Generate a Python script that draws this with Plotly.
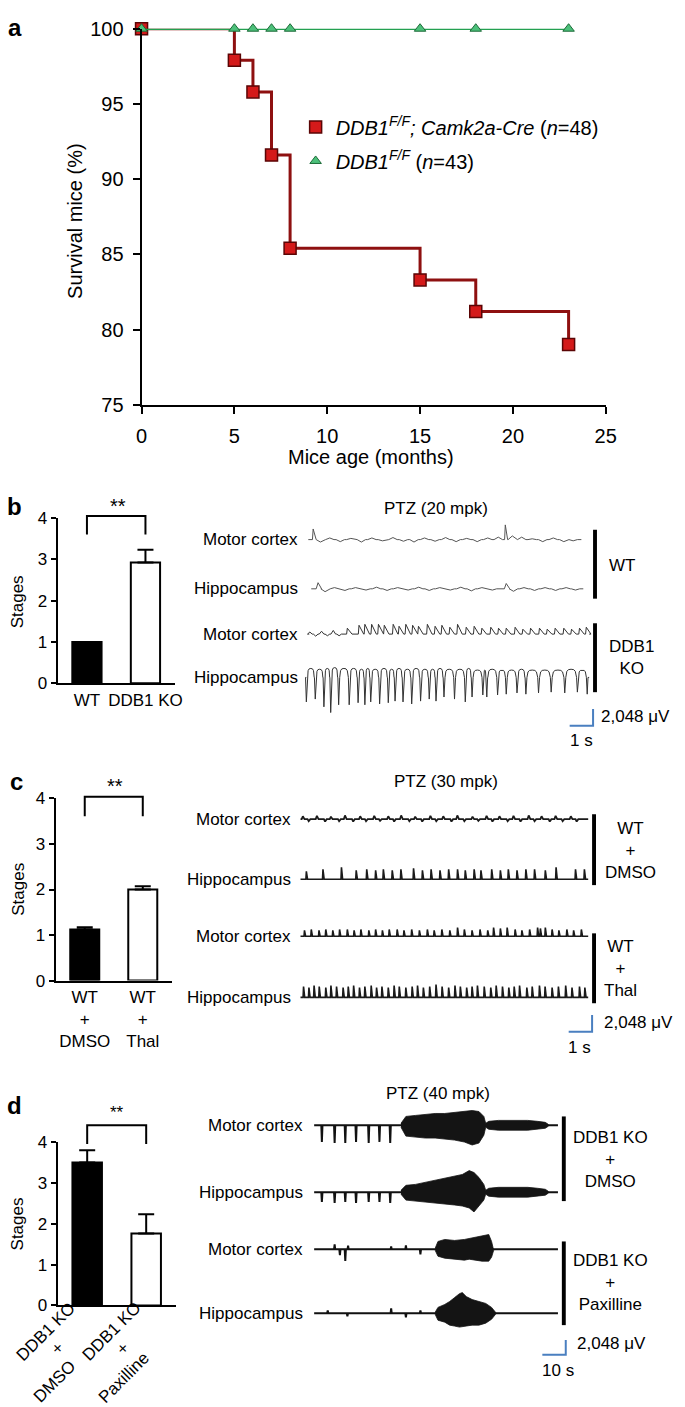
import plotly.graph_objects as go

W, H = 685, 1407
FONT = "Arial"

# ---------------- DATA ----------------
# Panel a: Kaplan-Meier survival
a_months_ko = [0, 5, 6, 7, 8, 15, 18, 23]
a_surv_ko = [100, 97.9, 95.8, 91.6, 85.4, 83.3, 81.2, 79.0]
a_months_ctl = [0, 5, 6, 7, 8, 15, 18, 23]
a_surv_ctl = [100, 100, 100, 100, 100, 100, 100, 100]
a_name_ko = "<i>DDB1</i><sup><i>F/F</i></sup><i>; Camk2a-Cre</i> (<i>n</i>=48)"
a_name_ctl = "<i>DDB1</i><sup><i>F/F</i></sup> (<i>n</i>=43)"
a_xticks = [0, 5, 10, 15, 20, 25]
a_yticks = [75, 80, 85, 90, 95, 100]

# Panels b-d: seizure stages
stage_ticks = [0, 1, 2, 3, 4]
b_groups = ["WT", "DDB1 KO"]
b_means = [1.0, 2.92]
b_err = [0.0, 0.31]
c_groups = ["WT<br>+<br>DMSO", "WT<br>+<br>Thal"]
c_means = [1.12, 2.0]
c_err = [0.05, 0.07]
d_groups = ["DDB1 KO<br>+<br>DMSO", "DDB1 KO<br>+<br>Paxilline"]
d_label_lines = [["DDB1 KO", "+", "DMSO"], ["DDB1 KO", "+", "Paxilline"]]
d_means = [3.5, 1.76]
d_err = [0.3, 0.47]

# EEG scale bars
scale_uv = 2048
b_scale_s = 1
c_scale_s = 1
d_scale_s = 10

# Panel b EEG (time s, amplitude uV)
b_wt_mc_t = [0.29, 0.6, 1.0, 1.45, 1.9, 2.35, 2.8, 3.25, 3.7, 4.15, 4.6, 5.05, 5.5, 5.95, 6.4, 6.85, 7.3, 7.75, 8.2, 8.5, 8.8, 9.2, 9.65, 10.1, 10.55, 11.0, 11.4]
b_wt_mc_v = [1300, -300, 200, -250, 150, -300, 200, -150, 250, -200, -300, 200, -200, 250, -250, 150, -250, 200, 300, 1800, 450, 300, 100, -250, 200, -250, -150]
b_wt_hp_t = [0.5, 0.8, 1.2, 1.65, 2.1, 2.55, 3.0, 3.45, 3.9, 4.35, 4.8, 5.25, 5.7, 6.15, 6.6, 7.05, 7.5, 7.95, 8.54, 8.85, 9.3, 9.75, 10.2, 10.65, 11.1, 11.5]
b_wt_hp_v = [750, -350, 150, -200, 150, -150, 200, -200, 150, -150, 200, -200, 150, -150, 200, -250, 150, -150, 650, -300, 150, -200, 150, -200, 150, -150]
b_ko_mc_t = [0.15, 0.4, 0.65, 0.9, 1.15, 1.4, 1.75, 2.25, 2.5, 2.79, 3.08, 3.33, 3.71, 3.96, 4.25, 4.54, 4.79, 5.17, 5.5, 5.79, 6.13, 6.46, 6.83, 7.17, 7.5, 7.88, 8.21, 8.54, 8.92, 9.25, 9.58, 9.96, 10.29, 10.63, 11.0, 11.33, 11.67, 11.96]
b_ko_mc_v = [250, -250, 350, -200, 450, -200, 720, 1080, 1200, 1200, 1200, 1080, 1200, 960, 1200, 1080, 960, 1200, 960, 1080, 840, 1200, 840, 960, 720, 840, 720, 720, 840, 600, 720, 720, 600, 720, 720, 600, 720, 840]
b_ko_hp_t = [0.0, 0.38, 0.75, 1.04, 1.38, 1.83, 2.21, 2.5, 2.75, 3.13, 3.5, 3.79, 4.13, 4.5, 4.88, 5.25, 5.54, 5.88, 6.33, 6.79, 7.08, 7.54, 7.71, 8.17, 8.54, 9.0, 9.38, 9.92, 10.46, 11.04, 11.58, 12.0]
b_ko_hp_v = [-3000, -2650, -3600, -4300, -3350, -3350, -3100, -3350, -3000, -3250, -3100, -2900, -3000, -3250, -2900, -2650, -2900, -2400, -2650, -3000, -2400, -2150, -2400, -2150, -2050, -1900, -2050, -1900, -1800, -1900, -1800, -2050]
b_ko_hp_hump = [1100, 1000, 1100, 1200, 1100, 1100, 1000, 1100, 1000, 1100, 1000, 1100, 1000, 1100, 1000, 1000, 1100, 1000, 1000, 1100, 900, 900, 1000, 900, 900, 1000, 900, 900, 900, 1000, 900]

# Panel c EEG
c_dmso_mc_t = [0.1, 0.35, 0.7, 1.05, 1.3, 1.65, 1.9, 2.25, 2.55, 2.8, 3.15, 3.4, 3.75, 4.0, 4.3, 4.65, 4.9, 5.2, 5.55, 5.8, 6.1, 6.45, 6.7, 7.0, 7.35, 7.6, 7.95, 8.2, 8.5, 8.85, 9.1, 9.4, 9.75, 10.0, 10.3, 10.65, 10.9, 11.2, 11.55, 11.8]
c_dmso_mc_v = [350, -250, 400, -300, 300, -250, 450, -300, 350, -250, 400, -200, 350, -300, 450, -250, 300, -300, 400, -250, 350, -300, 450, -250, 300, -200, 400, -300, 350, -250, 400, -300, 450, -250, 350, -300, 400, -250, 350, -300]
c_dmso_hp_t = [0.25, 0.96, 1.75, 2.38, 2.83, 3.21, 3.54, 3.92, 4.29, 4.83, 5.21, 5.58, 5.96, 6.33, 6.71, 7.04, 7.42, 7.71, 8.17, 8.54, 8.88, 9.25, 9.63, 10.0, 10.46, 10.92, 11.75, 12.13]
c_dmso_hp_v = [960, 1200, 1450, 1080, 1200, 1080, 1200, 1080, 1200, 1330, 1080, 1200, 1080, 1200, 1200, 1080, 1200, 1080, 1200, 1080, 1200, 1080, 1200, 1200, 1080, 1450, 1200, 1200]
c_thal_mc_t = [0.17, 0.46, 0.79, 1.08, 1.38, 1.67, 2.0, 2.29, 2.58, 2.92, 3.21, 3.5, 3.79, 4.13, 4.42, 4.75, 5.08, 5.42, 5.71, 6.04, 6.38, 6.71, 7.0, 7.33, 7.67, 8.0, 8.25, 8.54, 8.83, 9.17, 9.46, 9.79, 10.13, 10.25, 10.46, 10.75, 11.04, 11.38, 11.67, 12.0]
c_thal_mc_v = [720, 840, 720, 840, 720, 840, 840, 720, 840, 720, 840, 720, 840, 840, 720, 840, 720, 840, 720, 840, 720, 1080, 840, 720, 840, 720, 1080, 960, 1080, 840, 720, 840, 1080, 960, 1080, 840, 720, 840, 720, 840]
c_thal_hp_t = [0.13, 0.36, 0.58, 0.8, 1.08, 1.3, 1.54, 1.82, 2.04, 2.27, 2.52, 2.75, 3.02, 3.25, 3.48, 3.75, 4.0, 4.22, 4.5, 4.77, 5.0, 5.25, 5.52, 5.79, 6.05, 6.33, 6.6, 6.83, 7.1, 7.33, 7.56, 7.85, 8.13, 8.36, 8.63, 8.9, 9.13, 9.36, 9.67, 9.9, 10.21, 10.45, 10.75, 11.02, 11.33, 11.6, 11.92, 12.15]
c_thal_hp_v = [1330, 1200, 1450, 1330, 1200, 1450, 1330, 1200, 1330, 1450, 1200, 1330, 1450, 1200, 1330, 1200, 1450, 1330, 1200, 1330, 1450, 1200, 1330, 1560, 1330, 1200, 1450, 1330, 1200, 1330, 1450, 1330, 1200, 1450, 1330, 1200, 1330, 1450, 1200, 1330, 1450, 1330, 1200, 1330, 1450, 1200, 1330, 1200]

# Panel d EEG (spikes + burst envelopes)
d_dmso_spk_t = [3.3, 8.75, 13.3, 17.9, 23.3, 27.9, 32.5]
d_dmso_mc_spk_v = [-2300, -2450, -2450, -2300, -2450, -2300, -2450]
d_dmso_hp_spk_v = [-1350, -1500, -1350, -1500, -1350, -1350, -1500]
d_dmso_mc_env_t = [37.1, 39.2, 43.3, 47.5, 51.7, 55.8, 60.0, 64.2, 67.5, 70.4, 72.5, 73.3, 74.6, 78.75, 82.9, 87.1, 91.25, 95.4, 98.75, 100.0]
d_dmso_mc_env_up = [270, 1230, 1370, 1500, 1640, 1640, 1770, 1910, 2050, 1910, 1230, 270, 550, 680, 680, 680, 680, 550, 410, 140]
d_dmso_mc_env_lo = [270, 1500, 1640, 1770, 1770, 1910, 2050, 2320, 2730, 2460, 1370, 270, 550, 680, 680, 680, 680, 550, 410, 140]
d_dmso_hp_env_t = [37.1, 39.2, 43.3, 47.5, 51.7, 55.8, 60.0, 63.3, 66.25, 68.3, 70.4, 72.5, 73.3, 74.6, 78.75, 82.9, 87.1, 91.25, 95.4, 98.75, 100.0]
d_dmso_hp_env_up = [270, 960, 1090, 1370, 1640, 1910, 2180, 2460, 3000, 2730, 2050, 1090, 270, 550, 680, 680, 680, 680, 550, 410, 140]
d_dmso_hp_env_lo = [270, 1090, 1230, 1370, 1500, 1640, 1770, 1910, 2180, 2730, 1910, 1090, 270, 550, 680, 680, 680, 680, 550, 410, 140]
d_pax_mc_spk_t = [8.75, 11.0, 13.3, 14.5, 32.9, 39.2, 45.4]
d_pax_mc_spk_v = [700, -800, -1600, 500, 400, 550, -700]
d_pax_mc_env_t = [51.7, 52.9, 55.8, 60.0, 64.2, 66.25, 68.3, 71.7, 74.6, 75.8, 76.7]
d_pax_mc_env_up = [140, 1090, 1370, 1230, 1370, 1500, 1640, 1910, 2050, 1090, 140]
d_pax_mc_env_lo = [140, 960, 1230, 1370, 1500, 1370, 1500, 1640, 1640, 1090, 140]
d_pax_hp_spk_t = [5.8, 14.2, 32.9, 39.2, 45.4]
d_pax_hp_spk_v = [400, -400, 680, -550, 400]
d_pax_hp_env_t = [51.7, 52.9, 55.8, 57.9, 60.0, 62.1, 63.3, 65.0, 67.5, 70.4, 73.3, 75.8, 77.5]
d_pax_hp_env_up = [140, 820, 1230, 1640, 2180, 2730, 2870, 2320, 1910, 1640, 1370, 820, 140]
d_pax_hp_env_lo = [140, 960, 1230, 1640, 1770, 1910, 1910, 1770, 1640, 1640, 1370, 820, 140]

# ---------------- FIGURE ----------------
fig = go.Figure()
layout = {}
annotations = []
shapes = []


def py(p):
    return 1 - p / H


def text(x, y, s, size=17, xanchor="center", yanchor="middle", angle=0, bold=False, color="black"):
    annotations.append(dict(x=x / W, y=py(y), xref="paper", yref="paper", text=s,
                            showarrow=False, xanchor=xanchor, yanchor=yanchor, textangle=angle,
                            font=dict(family=FONT, size=size, color=color,
                                      weight="bold" if bold else "normal")))


def vbar(x, y0, y1, w=4):
    shapes.append(dict(type="rect", xref="paper", yref="paper", x0=(x - w / 2) / W, x1=(x + w / 2) / W,
                       y0=py(y1), y1=py(y0), fillcolor="black", line=dict(width=0)))


# ----- Panel a -----
ko_marker = dict(symbol="square", size=12, color="#d41a1a", line=dict(color="#5a0505", width=1.5))
ctl_marker = dict(symbol="triangle-up", size=10, color="#4cc07a", line=dict(color="#1c6b38", width=1))
fig.add_trace(go.Scatter(x=a_months_ko, y=a_surv_ko, mode="lines+markers", showlegend=False,
                         line=dict(shape="hv", color="#8e1010", width=3), marker=ko_marker,
                         cliponaxis=False, xaxis="x", yaxis="y"))
fig.add_trace(go.Scatter(x=a_months_ctl, y=a_surv_ctl, mode="lines+markers", showlegend=False,
                         line=dict(shape="hv", color="#23a050", width=2.5), marker=ctl_marker,
                         cliponaxis=False, xaxis="x", yaxis="y"))
fig.add_trace(go.Scatter(x=[None], y=[None], mode="markers", name=a_name_ko, legendgroup="ko",
                         marker=ko_marker, xaxis="x", yaxis="y"))
fig.add_trace(go.Scatter(x=[None], y=[None], mode="markers", name=a_name_ctl, legendgroup="ctl",
                         marker=ctl_marker, xaxis="x", yaxis="y"))

axis_common = dict(showline=True, linecolor="black", linewidth=2, showgrid=False, zeroline=False,
                   ticks="outside", tickcolor="black", tickwidth=2)
layout["xaxis"] = dict(axis_common, domain=[139 / W, 615 / W], range=[0, 25], tickvals=a_xticks, ticklen=7,
                       tickfont=dict(family=FONT, size=20, color="black"), anchor="y", ticklabelstandoff=5)
layout["yaxis"] = dict(axis_common, domain=[py(400), py(18)], range=[75, 100], tickvals=a_yticks, ticklen=7,
                       tickfont=dict(family=FONT, size=20, color="black"), anchor="x", ticklabelstandoff=5)
text(70, 213, "Survival mice (%)", size=20, angle=-90)
text(374, 453, "Mice age (months)", size=20)
text(9, 17, "a", size=24, bold=True)


# ----- Bar panels -----
def bar_panel(n, nb, cats, means, errs, left, right, y0px, y4px, bracket_top, bracket_leg, show_ticks=True):
    fig.add_trace(go.Bar(x=cats, y=means, width=0.5,
                         marker=dict(color=["black", "white"], line=dict(color="black", width=2)),
                         error_y=dict(type="data", array=errs, arrayminus=[0, 0], symmetric=False,
                                      color="black", thickness=2, width=8),
                         showlegend=False, xaxis=f"x{n}", yaxis=f"y{n}"))
    layout[f"xaxis{n}"] = dict(showline=True, linecolor="black", linewidth=2, showgrid=False, zeroline=False,
                               type="category", range=[-0.5, 1.5], ticks="", domain=[left / W, right / W],
                               anchor=f"y{n}", showticklabels=show_ticks,
                               tickfont=dict(family=FONT, size=17, color="black"))
    layout[f"yaxis{n}"] = dict(axis_common, domain=[py(y0px), py(y4px)], range=[0, 4], tickvals=stage_ticks,
                               ticklen=5, anchor=f"x{n}", tickfont=dict(family=FONT, size=17, color="black"))
    # invisible taller overlay subplot for the significance bracket
    unit = (y0px - y4px) / 4
    top_val = 4.8
    layout[f"xaxis{nb}"] = dict(type="category", range=[-0.5, 1.5], domain=[left / W, right / W],
                                visible=False, anchor=f"y{nb}", categoryarray=cats, categoryorder="array")
    layout[f"yaxis{nb}"] = dict(range=[0, top_val], domain=[py(y0px), py(y0px - unit * top_val)],
                                visible=False, anchor=f"x{nb}")
    fig.add_trace(go.Scatter(x=[cats[0], cats[0], cats[1], cats[1]],
                             y=[bracket_leg, bracket_top, bracket_top, bracket_leg],
                             mode="lines", line=dict(color="black", width=2), showlegend=False,
                             hoverinfo="skip", xaxis=f"x{nb}", yaxis=f"y{nb}"))


bar_panel(2, 8, b_groups, b_means, b_err, 53, 173, 683, 515, 4.05, 3.6)
bar_panel(4, 9, c_groups, c_means, c_err, 51, 170, 985, 800, 4.04, 3.61)
bar_panel(6, 10, d_groups, d_means, d_err, 53, 174, 1315, 1149, 4.41, 3.95, show_ticks=False)
# rotated category labels for d (one annotation per line, lines stacked perpendicular to the text)
d_label_pos = [[(41, 1341), (53, 1359), (50, 1392)], [(108, 1341), (120, 1359), (121, 1388)]]
for lines, poss in zip(d_label_lines, d_label_pos):
    for s, (lx, ly) in zip(lines, poss):
        text(lx, ly, s, size=17, angle=-45)

text(9, 503, "b", size=24, bold=True)
text(11, 783, "c", size=24, bold=True)
text(9, 1112, "d", size=24, bold=True)
text(115, 503, "**", size=20)
text(112, 787, "**", size=20)
text(114, 1119, "**", size=17)
text(12, 600, "Stages", size=17, angle=-90)
text(12, 892, "Stages", size=17, angle=-90)
text(12, 1232, "Stages", size=17, angle=-90)


# ----- EEG panels -----
def trace_axes(n, left, right, top, bottom, t0px, pxps, pxpu):
    layout[f"xaxis{n}"] = dict(domain=[left / W, right / W], range=[(left - t0px) / pxps, (right - t0px) / pxps],
                               visible=False, anchor=f"y{n}")
    layout[f"yaxis{n}"] = dict(domain=[py(bottom), py(top)], range=[0, (bottom - top) / pxpu],
                               visible=False, anchor=f"x{n}")
    return lambda p: (bottom - p) / pxpu, lambda p: (p - t0px) / pxps


TRI = [(-1, 0), (0, 1), (1, 0)]
ARCH = [(-1, 0), (-0.8, 0.75), (-0.5, 0.95), (0, 1), (0.5, 0.95), (0.8, 0.75), (1, 0)]


def path(events, off, t_start, t_end):
    # events: (t, amp, rise, fall, template)
    xs, ys = [t_start], [off]
    for t, a, r, f, tpl in sorted(events, key=lambda e: e[0]):
        for fx, fy in tpl:
            xs.append(t + fx * (r if fx < 0 else f))
            ys.append(off + fy * a)
    xs.append(t_end)
    ys.append(off)
    return xs, ys


def add_line(n, xs, ys, color="#2a2a2a", width=1.1):
    fig.add_trace(go.Scatter(x=xs, y=ys, mode="lines", line=dict(color=color, width=width),
                             showlegend=False, hoverinfo="skip", xaxis=f"x{n}", yaxis=f"y{n}"))


def add_env(n, ts, up, lo, off):
    xs = list(ts) + list(ts)[::-1]
    ys = [off + u for u in up] + [off - l for l in lo][::-1]
    fig.add_trace(go.Scatter(x=xs, y=ys, mode="lines", fill="toself", fillcolor="#141414",
                             line=dict(color="#141414", width=0.8), showlegend=False, hoverinfo="skip",
                             xaxis=f"x{n}", yaxis=f"y{n}"))


def scale_bar(n, offy, tx, cx, cy, secs):
    t1 = tx(cx)
    v0 = offy(cy)
    fig.add_trace(go.Scatter(x=[t1 - secs, t1, t1], y=[v0, v0, v0 + scale_uv], mode="lines",
                             line=dict(color="#4a7fc0", width=2), showlegend=False, hoverinfo="skip",
                             xaxis=f"x{n}", yaxis=f"y{n}"))


def wig(ts, vs, big, r_big, f_big, r_small, f_small):
    return [(t, v, r_big, f_big, TRI) if abs(v) >= big else (t, v, r_small, f_small, TRI)
            for t, v in zip(ts, vs)]


# b
offb, tb = trace_axes(3, 300, 685, 490, 760, 308, 24.0, 17 / 2048)
xs, ys = path(wig(b_wt_mc_t, b_wt_mc_v, 1000, 0.03, 0.1, 0.18, 0.18), offb(537), tb(310), tb(590))
add_line(3, xs, ys, "#555555", 1.0)
xs, ys = path(wig(b_wt_hp_t, b_wt_hp_v, 600, 0.08, 0.15, 0.18, 0.18), offb(587), tb(313), tb(592))
add_line(3, xs, ys, "#555555", 1.0)
xs, ys = path(wig(b_ko_mc_t, b_ko_mc_v, 550, 0.03, 0.2, 0.1, 0.1), offb(633), tb(311), tb(598))
add_line(3, xs, ys, "#333333", 1.0)
ev = [(t, v, 0.035, 0.035, TRI) for t, v in zip(b_ko_hp_t, b_ko_hp_v)]
for i, hmp in enumerate(b_ko_hp_hump):
    if i + 1 < len(b_ko_hp_t):
        mid = (b_ko_hp_t[i] + b_ko_hp_t[i + 1]) / 2
        half = (b_ko_hp_t[i + 1] - b_ko_hp_t[i]) / 2 - 0.045
        ev.append((mid, hmp, half, half, ARCH))
xs, ys = path(ev, offb(677), tb(308), tb(598))
add_line(3, xs, ys, "#333333", 1.0)
scale_bar(3, offb, tb, 602, 726, b_scale_s)
text(441, 505, "PTZ (20 mpk)")
text(301, 537, "Motor cortex", xanchor="right")
text(301, 587, "Hippocampus", xanchor="right")
text(301, 633, "Motor cortex", xanchor="right")
text(301, 677, "Hippocampus", xanchor="right")
vbar(604, 527, 597)
vbar(604, 622, 692)
text(616, 563, "WT", xanchor="left")
text(616, 657, "DDB1<br>KO", xanchor="left")
text(608, 717, "2,048 μV", xanchor="left")
text(590, 741, "1 s")

# c
offc, tc = trace_axes(5, 295, 685, 770, 1065, 302, 24.0, 17 / 2048)
xs, ys = path(wig(c_dmso_mc_t, c_dmso_mc_v, 5000, 0.03, 0.05, 0.05, 0.07), offc(821), tc(302), tc(597))
add_line(5, xs, ys, "#1a1a1a", 1.8)
xs, ys = path(wig(c_dmso_hp_t, c_dmso_hp_v, 500, 0.02, 0.05, 0.05, 0.05), offc(882), tc(302), tc(597))
add_line(5, xs, ys, "#1a1a1a", 1.6)
xs, ys = path(wig(c_thal_mc_t, c_thal_mc_v, 500, 0.02, 0.05, 0.05, 0.05), offc(940), tc(302), tc(597))
add_line(5, xs, ys, "#1a1a1a", 1.6)
xs, ys = path(wig(c_thal_hp_t, c_thal_hp_v, 500, 0.02, 0.05, 0.05, 0.05), offc(1002), tc(302), tc(597))
add_line(5, xs, ys, "#1a1a1a", 1.6)
scale_bar(5, offc, tc, 601, 1037, c_scale_s)
text(451, 783, "PTZ (30 mpk)")
text(294, 821, "Motor cortex", xanchor="right")
text(294, 882, "Hippocampus", xanchor="right")
text(294, 940, "Motor cortex", xanchor="right")
text(294, 1002, "Hippocampus", xanchor="right")
vbar(603, 816, 888)
vbar(603, 937, 1008)
text(640, 853, "WT<br>+<br>DMSO", size=17)
text(630, 973, "WT<br>+<br>Thal", size=17)
text(611, 1028, "2,048 μV", xanchor="left")
text(588, 1053, "1 s")

# d
offd, td = trace_axes(7, 310, 685, 1090, 1395, 316, 2.4, 15 / 2048)
for base, spk_t, spk_v, env_t, env_u, env_l in [
    (1132, d_dmso_spk_t, d_dmso_mc_spk_v, d_dmso_mc_env_t, d_dmso_mc_env_up, d_dmso_mc_env_lo),
    (1200, d_dmso_spk_t, d_dmso_hp_spk_v, d_dmso_hp_env_t, d_dmso_hp_env_up, d_dmso_hp_env_lo),
    (1258, d_pax_mc_spk_t, d_pax_mc_spk_v, d_pax_mc_env_t, d_pax_mc_env_up, d_pax_mc_env_lo),
    (1323, d_pax_hp_spk_t, d_pax_hp_spk_v, d_pax_hp_env_t, d_pax_hp_env_up, d_pax_hp_env_lo),
]:
    xs, ys = path(wig(spk_t, spk_v, 0, 0.25, 0.25, 0.25, 0.25), offd(base), td(316), td(566))
    add_line(7, xs, ys, "#111111", 2.0)
    add_env(7, env_t, env_u, env_l, offd(base))
scale_bar(7, offd, td, 574, 1365, d_scale_s)
text(443, 1100, "PTZ (40 mpk)")
text(307, 1132, "Motor cortex", xanchor="right")
text(307, 1200, "Hippocampus", xanchor="right")
text(307, 1258, "Motor cortex", xanchor="right")
text(307, 1323, "Hippocampus", xanchor="right")
vbar(572, 1123, 1209)
vbar(572, 1250, 1335)
text(620, 1167, "DDB1 KO<br>+<br>DMSO", size=17)
text(620, 1292, "DDB1 KO<br>+<br>Paxilline", size=17)
text(583, 1354, "2,048 μV", xanchor="left")
text(566, 1381, "10 s")

fig.update_layout(
    width=W, height=H, margin=dict(l=0, r=0, t=0, b=0),
    paper_bgcolor="white", plot_bgcolor="rgba(0,0,0,0)",
    font=dict(family=FONT, color="black"),
    showlegend=True,
    legend=dict(x=297 / W, y=py(98), xanchor="left", yanchor="top", bgcolor="rgba(0,0,0,0)",
                font=dict(family=FONT, size=20, color="black"), itemwidth=30, tracegroupgap=5,
                traceorder="grouped"),
    annotations=annotations, shapes=shapes, hovermode=False,
    **layout,
)

fig.write_html("out.html", config={"displayModeBar": False, "staticPlot": True},
               post_script="document.body.style.margin='0';")
